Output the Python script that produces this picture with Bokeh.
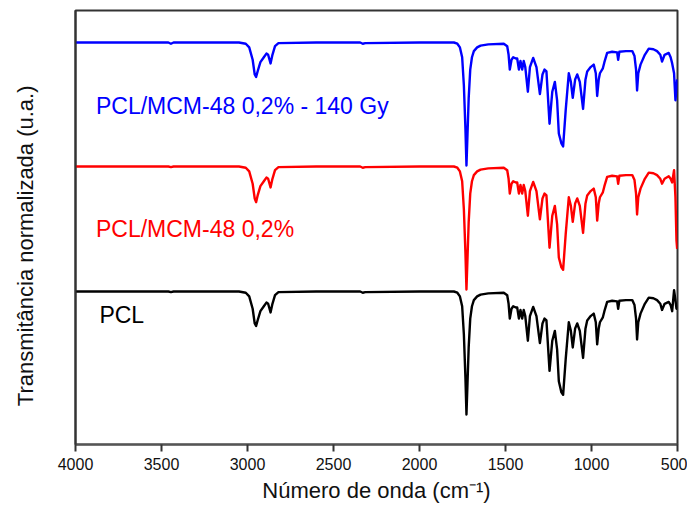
from bokeh.plotting import figure
from bokeh.models import Range1d, FixedTicker, Label, ColumnDataSource
from bokeh.embed import file_html
from bokeh.resources import INLINE

# Wavenumber grid (cm-1) shared by the three spectra
wavenumber = [4000, 3700, 3460, 3445, 3430, 3200, 3050, 3010, 2990, 2970, 2958, 2950, 2940,
              2925, 2905, 2890, 2880, 2866, 2855, 2840, 2820, 2600, 2345, 2330, 2315, 2000,
              1800, 1780, 1765, 1752, 1742, 1733, 1727, 1721, 1714, 1705, 1695, 1684, 1665,
              1645, 1600, 1510, 1490, 1482, 1475, 1465, 1455, 1440, 1432, 1422, 1413, 1403,
              1394, 1385, 1370, 1358, 1339, 1320, 1300, 1285, 1273, 1262, 1244, 1228, 1213,
              1200, 1190, 1175, 1165, 1150, 1132, 1120, 1109, 1095, 1083, 1068, 1049, 1035,
              1025, 1005, 987, 975, 967, 958, 951, 934, 925, 909, 880, 851, 845, 838, 800,
              763, 750, 741, 735, 728, 715, 690, 667, 640, 619, 600, 590, 575, 551, 540,
              531, 520, 512, 506, 502]

# Normalized transmittance (1 = baseline, 0 = deepest band)
t_irradiated = [1.00, 1.00, 1.00, 0.99, 1.00, 1.00, 1.00, 0.99, 0.96, 0.86, 0.74, 0.72, 0.77,
                0.84, 0.88, 0.91, 0.90, 0.83, 0.90, 0.97, 0.995, 1.00, 1.00, 0.99, 0.995, 1.00,
                1.00, 0.99, 0.96, 0.88, 0.65, 0.30, 0.00, 0.25, 0.55, 0.78, 0.88, 0.93, 0.96,
                0.975, 0.985, 0.99, 0.97, 0.90, 0.78, 0.86, 0.88, 0.87, 0.87, 0.78, 0.85, 0.78,
                0.85, 0.80, 0.60, 0.80, 0.875, 0.80, 0.58, 0.74, 0.78, 0.765, 0.34, 0.60, 0.68,
                0.53, 0.26, 0.18, 0.155, 0.45, 0.75, 0.68, 0.55, 0.70, 0.74, 0.68, 0.46, 0.70,
                0.765, 0.80, 0.82, 0.75, 0.565, 0.70, 0.75, 0.79, 0.84, 0.915, 0.925, 0.92, 0.86, 0.925, 0.93,
                0.93, 0.89, 0.78, 0.61, 0.75, 0.82, 0.90, 0.95, 0.945, 0.93, 0.90, 0.845, 0.90, 0.915, 0.88,
                0.83, 0.75, 0.53, 0.62, 0.70]

t_composite = [1.00, 1.00, 1.00, 0.995, 1.00, 1.00, 1.00, 0.99, 0.96, 0.86, 0.74, 0.71, 0.77,
               0.84, 0.88, 0.91, 0.90, 0.83, 0.90, 0.97, 0.995, 1.00, 1.00, 0.99, 0.995, 1.00,
               1.00, 0.99, 0.96, 0.88, 0.65, 0.30, 0.00, 0.25, 0.55, 0.78, 0.88, 0.93, 0.96,
               0.975, 0.985, 0.99, 0.97, 0.90, 0.78, 0.86, 0.88, 0.87, 0.87, 0.78, 0.85, 0.78,
               0.85, 0.80, 0.60, 0.80, 0.875, 0.80, 0.57, 0.74, 0.78, 0.765, 0.34, 0.60, 0.68,
               0.53, 0.26, 0.18, 0.16, 0.45, 0.75, 0.68, 0.55, 0.70, 0.74, 0.68, 0.46, 0.70,
               0.765, 0.80, 0.82, 0.75, 0.56, 0.70, 0.75, 0.79, 0.84, 0.915, 0.925, 0.92, 0.86, 0.925, 0.93,
               0.93, 0.89, 0.78, 0.61, 0.75, 0.82, 0.90, 0.95, 0.945, 0.93, 0.90, 0.86, 0.90, 0.92, 0.90,
               0.87, 0.97, 0.75, 0.40, 0.33]

t_pcl = [1.00, 1.00, 1.00, 0.995, 1.00, 1.00, 1.00, 0.99, 0.96, 0.86, 0.74, 0.72, 0.77,
         0.84, 0.88, 0.91, 0.90, 0.83, 0.90, 0.97, 0.995, 1.00, 1.00, 0.99, 0.995, 1.00,
         1.00, 0.99, 0.96, 0.88, 0.65, 0.30, 0.00, 0.25, 0.55, 0.78, 0.88, 0.93, 0.96,
         0.975, 0.985, 0.99, 0.97, 0.90, 0.78, 0.86, 0.88, 0.87, 0.87, 0.78, 0.85, 0.78,
         0.85, 0.80, 0.60, 0.80, 0.875, 0.80, 0.58, 0.74, 0.78, 0.765, 0.355, 0.60, 0.68,
         0.53, 0.27, 0.18, 0.16, 0.45, 0.75, 0.68, 0.545, 0.70, 0.74, 0.68, 0.46, 0.70,
         0.765, 0.80, 0.82, 0.75, 0.57, 0.70, 0.75, 0.79, 0.84, 0.915, 0.925, 0.92, 0.86, 0.925, 0.93,
         0.93, 0.89, 0.78, 0.61, 0.75, 0.82, 0.90, 0.95, 0.945, 0.93, 0.90, 0.85, 0.90, 0.915, 0.89,
         0.84, 1.01, 0.93, 0.86, 0.86]

series_names = ["PCL/MCM-48 0,2% - 140 Gy", "PCL/MCM-48 0,2%", "PCL"]
series_values = [t_irradiated, t_composite, t_pcl]
series_colors = ["#0000ff", "#ff0000", "#000000"]
x_ticks = [4000, 3500, 3000, 2500, 2000, 1500, 1000, 500]

# stacking offsets (vertical position of the deepest band of each trace) and band depth
offsets = [2.79, 1.55, 0.30]
depth = 1.23
label_y = [3.39, 2.16, 1.30]
label_x = [3881, 3881, 3861]

W, H = 687, 511
p = figure(width=W, height=H, output_backend="svg", toolbar_location=None,
           x_range=Range1d(4000, 500), y_range=Range1d(0, 4.34),
           min_border_left=75, min_border_right=10, min_border_top=10, min_border_bottom=67)

for name, vals, col, off in zip(series_names, series_values, series_colors, offsets):
    src = ColumnDataSource(dict(x=wavenumber, y=[off + depth * v for v in vals]))
    p.line("x", "y", source=src, line_color=col, line_width=2.4, line_join="round")

for name, col, lx, ly in zip(series_names, series_colors, label_x, label_y):
    p.add_layout(Label(x=lx, y=ly, text=name, text_color=col, text_font="Liberation Sans",
                       text_font_size="23px", text_baseline="middle", text_align="left"))

p.xgrid.visible = False
p.ygrid.visible = False
p.outline_line_color = "#333333"
p.outline_line_width = 2
p.outline_line_alpha = 1.0
p.background_fill_color = "white"
p.border_fill_color = "white"

xa = p.xaxis[0]
xa.ticker = FixedTicker(ticks=x_ticks)
xa.major_tick_out = 7
xa.major_tick_in = 0
xa.minor_tick_line_color = None
xa.major_tick_line_color = "#333333"
xa.major_tick_line_width = 2
xa.axis_line_color = "#555555"
xa.axis_line_width = 2
xa.major_label_text_font = "Liberation Sans"
xa.major_label_text_font_size = "16px"
xa.major_label_text_color = "#111111"
xa.major_label_standoff = 6
xa.axis_label = "Número de onda (cm⁻¹)"
xa.axis_label_text_font = "Liberation Sans"
xa.axis_label_text_font_size = "22px"
xa.axis_label_text_font_style = "normal"
xa.axis_label_text_color = "#111111"
xa.axis_label_standoff = 5

ya = p.yaxis[0]
ya.ticker = FixedTicker(ticks=[])
ya.major_tick_out = 0
ya.major_tick_in = 0
ya.minor_tick_line_color = None
ya.major_tick_line_color = None
ya.axis_line_color = "#333333"
ya.axis_line_width = 2
# trailing no-break spaces shift the visible title a little below the frame centre, as in the reference
ya.axis_label = "Transmitância normalizada (u.a.)" + "\u00a0" * 6
ya.axis_label_text_font = "Liberation Sans"
ya.axis_label_text_font_size = "22px"
ya.axis_label_text_font_style = "normal"
ya.axis_label_text_color = "#111111"
ya.axis_label_standoff = 38

open("out.html", "w").write(file_html(p, INLINE))
